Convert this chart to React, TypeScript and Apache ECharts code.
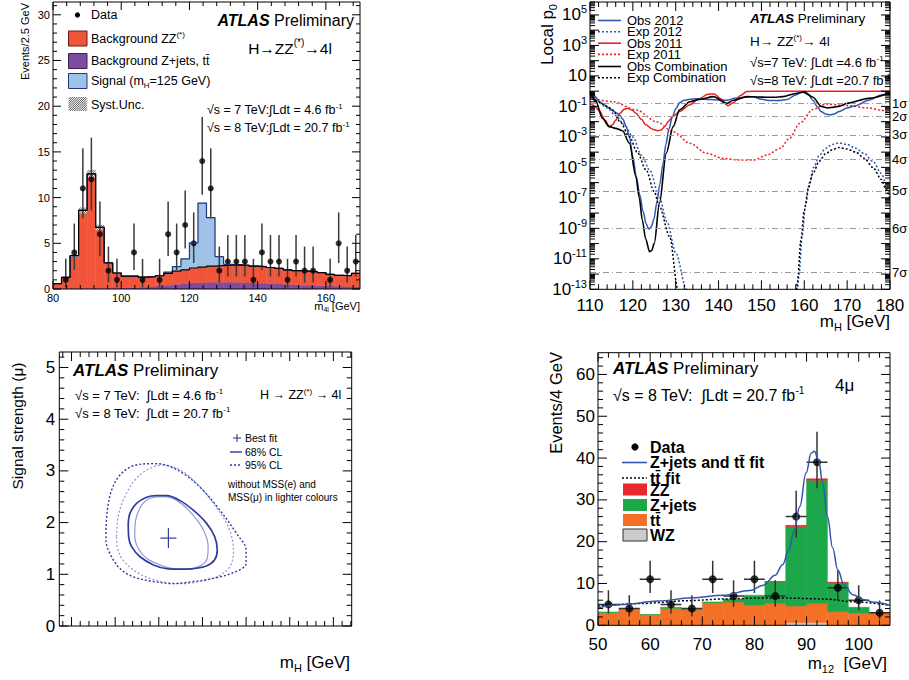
import React, { useEffect, useRef } from "react";
import * as echarts from "echarts";

const F = "'Liberation Sans', Arial, Helvetica, sans-serif";

// ---------------- Panel 1 : m4l distribution ----------------
const P1_START = 80;
const P1_WIDTH = 2.5;
const P1_BKG_TOTAL = [0.58, 1.28, 3.65, 8.6, 12.6, 6.75, 2.85, 1.75, 1.4, 1.4, 1.3, 1.35, 1.45, 1.7, 1.95, 2.1, 2.3, 2.4, 2.5, 2.55, 2.6, 2.65, 2.6, 2.5, 2.45, 2.35, 2.25, 2.1, 2.0, 1.95, 1.9, 1.8, 1.6, 1.5, 1.45, 1.7];
const P1_ZJETS = [0.05, 0.06, 0.07, 0.08, 0.08, 0.08, 0.08, 0.1, 0.12, 0.16, 0.2, 0.26, 0.34, 0.42, 0.52, 0.62, 0.68, 0.72, 0.74, 0.75, 0.75, 0.74, 0.72, 0.68, 0.64, 0.6, 0.55, 0.5, 0.46, 0.42, 0.39, 0.36, 0.33, 0.31, 0.29, 0.28];
const P1_SIGNAL = [0, 0, 0, 0, 0, 0, 0, 0, 0, 0, 0, 0, 0, 0.15, 0.5, 1.2, 2.75, 7.0, 5.3, 1.0, 0.1, 0, 0, 0, 0, 0, 0, 0, 0, 0, 0, 0, 0, 0, 0, 0];
const P1_SYST = [0, 0.08, 0.15, 0.32, 0.42, 0.28, 0.1, 0, 0, 0, 0, 0, 0, 0, 0, 0, 0, 0, 0, 0, 0, 0, 0, 0, 0, 0, 0, 0, 0, 0, 0, 0, 0, 0, 0, 0];
const P1_DATA: [number, number][] = [
  [83.75, 1], [86.25, 4], [88.75, 11], [91.25, 12], [93.75, 6], [96.25, 2], [98.75, 1], [103.75, 4], [106.25, 1],
  [111.25, 1], [113.75, 6], [116.25, 4], [118.75, 7], [121.25, 5], [123.75, 14], [126.25, 11], [128.75, 2],
  [131.25, 3], [133.75, 3], [136.25, 3], [138.75, 1], [141.25, 4], [143.75, 3], [146.25, 3], [148.75, 1],
  [151.25, 3], [153.75, 2], [156.25, 2], [161.25, 1], [163.75, 5], [166.25, 2], [168.75, 3],
];

// 68% Poisson intervals for observed counts
const POISSON_68: Record<number, [number, number]> = {
  1: [0.17, 3.3], 2: [0.71, 4.64], 3: [1.37, 5.92], 4: [2.09, 7.16], 5: [2.84, 8.38], 6: [3.62, 9.58],
  7: [4.42, 10.77], 9: [6.06, 13.1], 11: [7.74, 15.41], 12: [8.59, 16.55], 14: [10.31, 18.83],
  26: [20.94, 32.16], 39: [32.78, 46.29],
};

// ---------------- Panel 2 : local p0 (log10 values) ----------------
const P2_OBS2012: [number, number][] = [
  [110, -0.03], [111, -0.3], [112.2, -0.69], [113.4, -0.9], [114.5, -1.12], [115.7, -1.35], [116.9, -1.56], [117.7, -1.85],
  [118.4, -2.3], [119.2, -3.0], [120.0, -4.3], [120.8, -5.6], [121.6, -6.8], [122.4, -7.9], [123.1, -8.7], [123.7, -9.05],
  [124.3, -8.9], [124.9, -8.4], [125.6, -7.3], [126.3, -6.1], [127.0, -4.8], [127.7, -3.5], [128.4, -2.5], [129.2, -1.7],
  [130.0, -1.15], [131.0, -0.75], [132, -0.6], [133.3, -0.53], [135, -0.5], [138, -0.55], [140, -0.58], [142, -0.6],
  [144, -0.45], [146, -0.4], [148, -0.36], [150, -0.53], [152, -0.62], [154, -0.62], [156, -0.55], [158, -0.25],
  [159.5, -0.05], [161, -0.25], [162, -0.6], [163, -1.0], [164, -1.35], [165, -1.5], [166, -1.55], [167, -1.5],
  [168, -1.35], [170, -1.1], [172, -0.95], [175, -0.6], [178, -0.25], [180, -0.1],
];
const P2_EXP2012: [number, number][] = [
  [110, -0.3], [112, -0.75], [114, -1.1], [116, -1.6], [118, -2.2], [120, -3.0], [122, -4.2], [124, -5.2], [126, -6.8],
  [128, -8.6], [130, -10.6], [132.5, -13.0], [133.5, -14.3], [157.8, -14.3], [158.2, -13.6], [158.8, -12], [159.5, -9.5],
  [160.3, -7.5], [161.2, -6.0], [162.2, -5.0], [163.5, -4.2], [165, -3.75], [166.5, -3.5], [168, -3.4], [170, -3.5],
  [172, -3.75], [174, -4.1], [176, -4.6], [178, -5.4], [179, -6.0], [180, -6.8],
];
const P2_OBS2011: [number, number][] = [
  [110, -0.8], [111, -0.95], [112.2, -1.3], [113.5, -1.9], [114.5, -2.33], [115.3, -2.2], [116, -1.9], [117, -1.45],
  [118, -1.18], [118.8, -1.12], [119.8, -1.25], [120.7, -1.45], [122, -1.85], [123, -2.2], [124.6, -2.5], [125.8, -2.6],
  [126.6, -2.55], [127.4, -2.33], [128.4, -1.95], [129.3, -1.67], [130.9, -1.34], [133.2, -0.9], [135.5, -0.5],
  [137.5, -0.2], [139, -0.18], [140.5, -0.5], [142.2, -0.95], [143.5, -0.75], [145, -0.3], [146.6, -0.02], [150, 0],
  [165, 0], [180, 0],
];
const P2_EXP2011: [number, number][] = [
  [110, -0.46], [115.3, -0.69], [120.8, -1.23], [125.5, -2.0], [129.4, -2.66], [133.3, -3.42], [137.2, -4.08],
  [141.1, -4.41], [145, -4.52], [148.1, -4.52], [151.3, -4.19], [154.4, -3.75], [156.5, -3.1], [159, -2.1],
  [162, -1.2], [165, -0.85], [170, -0.95], [175, -1.1], [178, -1.25], [180, -1.5],
];
const P2_OBSCOMB: [number, number][] = [
  [110, -0.03], [111.4, -0.69], [112.9, -1.78], [114.5, -2.33], [116, -2.44], [117.6, -2.6], [119.2, -3.42],
  [120.7, -5.6], [121.5, -7.0], [122.2, -8.45], [123.0, -9.7], [123.9, -10.53], [124.4, -10.45], [125, -9.98],
  [126.2, -7.36], [127.8, -4.07], [129.4, -2.33], [130.9, -1.23], [133.3, -0.69], [135.6, -0.54], [138.8, -0.36],
  [141.9, -0.8], [143.5, -0.6], [146.6, -0.36], [149, -0.38], [151.3, -0.4], [153, -0.4], [155, -0.36], [158, -0.15],
  [160, -0.05], [162, -0.4], [164, -1.0], [165.5, -1.1], [167, -1.05], [168, -1.0], [170, -0.8], [175, -0.47], [180, -0.1],
];
const P2_EXPCOMB: [number, number][] = [
  [110, -0.15], [112, -0.7], [114, -1.0], [115.3, -1.23], [117, -2.0], [119.2, -2.98], [121, -4.0], [123.1, -5.17],
  [125, -6.6], [126.2, -7.58], [128.6, -9.55], [130.5, -13.0], [131.3, -14.5], [157.8, -14.3], [158.4, -12.5],
  [159.2, -9.8], [160, -7.8], [161, -6.3], [162, -5.4], [163.5, -4.6], [165, -4.1], [166.5, -3.85], [168, -3.7],
  [170, -3.8], [172, -4.0], [174, -4.4], [176, -5.0], [178, -5.8], [179, -6.4], [180, -7.1],
];
const P2_SIGMA_LOG = [-0.8, -1.64, -2.87, -4.5, -6.54, -9.01, -11.89];
const P2_SIGMA_LABELS = ["1σ", "2σ", "3σ", "4σ", "5σ", "6σ", "7σ"];
const P2_LOG_MIN = -13;

// ---------------- Panel 3 : mu vs mH contours ----------------
const P3_CL68: [number, number][] = [
  [123.30, 1.99], [123.34, 2.18], [123.49, 2.37], [123.72, 2.49], [123.95, 2.52], [124.18, 2.52], [124.48, 2.43],
  [124.79, 2.24], [125.09, 1.99], [125.28, 1.73], [125.34, 1.47], [125.28, 1.28], [125.09, 1.16], [124.79, 1.11],
  [124.48, 1.10], [124.18, 1.11], [123.88, 1.18], [123.57, 1.34], [123.38, 1.53], [123.31, 1.72], [123.30, 1.99],
];
const P3_CL68_LIGHT: [number, number][] = [
  [123.45, 1.86], [123.49, 2.12], [123.64, 2.37], [123.88, 2.49], [124.10, 2.50], [124.41, 2.43], [124.75, 2.18],
  [125.02, 1.86], [125.13, 1.54], [125.11, 1.31], [124.94, 1.16], [124.64, 1.10], [124.33, 1.11], [124.03, 1.18],
  [123.72, 1.31], [123.53, 1.50], [123.45, 1.73], [123.45, 1.86],
];
const P3_CL95: [number, number][] = [
  [122.79, 1.86], [122.82, 2.24], [122.92, 2.63], [123.11, 2.92], [123.42, 3.10], [123.88, 3.14], [124.18, 3.11],
  [124.56, 2.95], [124.94, 2.69], [125.40, 2.24], [125.78, 1.79], [126.00, 1.47], [126.00, 1.21], [125.70, 1.03],
  [125.24, 0.92], [124.79, 0.86], [124.33, 0.82], [123.88, 0.86], [123.42, 0.95], [123.11, 1.11], [122.88, 1.40],
  [122.79, 1.66], [122.79, 1.86],
];
const P3_CL95_LIGHT: [number, number][] = [
  [123.03, 1.73], [123.07, 2.12], [123.22, 2.50], [123.49, 2.86], [123.80, 3.05], [124.10, 3.11], [124.48, 3.02],
  [124.87, 2.76], [125.25, 2.37], [125.59, 1.92], [125.71, 1.47], [125.63, 1.15], [125.33, 0.95], [124.94, 0.86],
  [124.56, 0.82], [124.18, 0.84], [123.80, 0.92], [123.42, 1.08], [123.15, 1.31], [123.05, 1.53], [123.03, 1.73],
];
const P3_BEST_FIT: [number, number] = [124.22, 1.7];

// ---------------- Panel 4 : m12 control region ----------------
const P4_START = 50;
const P4_WIDTH = 4;
const P4_WZ = [0, 0, 0, 0, 0, 0, 0, 0, 0, 0.6, 0.6, 0, 0, 0];
const P4_TTBAR = [3.0, 4.0, 2.5, 4.0, 3.65, 5.4, 5.6, 4.8, 5.2, 4.0, 4.6, 3.25, 2.9, 2.9];
const P4_ZJETS = [0.2, 0, 0.1, 0.3, 0.15, 0.2, 0.7, 2.4, 5.2, 19.0, 29.5, 6.95, 1.4, 0.1];
const P4_ZZ = [0, 0, 0, 0, 0, 0, 0, 0, 0.1, 0.3, 0.35, 0.1, 0, 0];
const P4_DATA: [number, number][] = [
  [52, 5], [56, 4], [60, 11], [64, 5], [68, 4], [72, 11], [76, 7], [80, 11], [84, 7], [88, 26], [92, 39], [96, 9], [100, 6], [104, 3],
];
const P4_FIT_TOTAL: [number, number][] = [
  [50, 4.2], [55, 5.0], [61.6, 5.8], [68, 6.6], [74, 7.2], [79.1, 8.3], [81.7, 9.6], [84, 12], [85.4, 14.5],
  [86.6, 18], [87.6, 22.5], [88.7, 28.4], [89.9, 36.4], [90.9, 41.2], [91.5, 41.6], [92.3, 39.5], [93.1, 34],
  [94.0, 26], [95.0, 18.5], [96.0, 13.2], [97.2, 9.6], [98.9, 7.3], [100.8, 6.2], [103, 5.5], [106, 4.8],
];
const P4_FIT_TTBAR: [number, number][] = [
  [50, 4.6], [58, 5.2], [67.6, 5.9], [74, 6.3], [80.4, 6.5], [86.8, 6.5], [93.1, 6.3], [99.5, 5.6], [106, 4.8],
];

// ---------------- layout (pixels) ----------------
const G = [
  { l: 53, t: 2, w: 307, h: 287 },
  { l: 590, t: 2, w: 300, h: 287.3 },
  { l: 59.3, t: 352, w: 292.4, h: 274 },
  { l: 598, t: 352.7, w: 292, h: 272.6 },
];
const XR: [number, number][] = [[80, 170], [110, 180], [121.72, 128.42], [50, 106]];
const YR: [number, number][] = [[0, 31.4], [0, 18.85], [0, 5.3], [0, 65.2]];

const C = {
  zz: "#f0553a", zj: "#7d4c9f", sig: "#9ec3e7", sigLine: "#27357a",
  b12: "#3356b0", r11: "#ee1f1f",
  dk: "#2e3d9c", lt: "#8f96d8",
  zz4: "#e8292b", zj4: "#1ca84a", tt4: "#f47026", wz4: "#cccccc", fit: "#3355b0",
};

function range(a: number, b: number, s: number) {
  const out: number[] = [];
  for (let i = 0; a + i * s <= b + 1e-9; i++) out.push(Math.round((a + i * s) * 1e6) / 1e6);
  return out;
}

function hatch(L: number, T: number, W: number, H: number, sp: number) {
  const out: number[][] = [];
  const R = L + W, B = T + H;
  for (let s = L - H; s < R; s += sp) {
    let x1 = s, y1 = B, x2 = s + H, y2 = T;
    if (x1 < L) { y1 = B - (L - s); x1 = L; }
    if (x2 > R) { y2 = B - (R - s); x2 = R; }
    if (x2 > x1) out.push([x1, y1, x2, y2]);
  }
  return out;
}

function rich(s: number, bold?: boolean) {
  const w = bold ? "bold" : "normal";
  const ss = Math.round(s * 0.62);
  return {
    sup: { fontSize: ss, verticalAlign: "top", lineHeight: ss, fontFamily: F, fontWeight: w, fill: "#000", color: "#000" },
    sub: { fontSize: ss, verticalAlign: "bottom", lineHeight: ss, fontFamily: F, fontWeight: w, fill: "#000", color: "#000" },
    a: { fontSize: s, fontWeight: "bold", fontStyle: "italic", fontFamily: F, lineHeight: s * 1.3, fill: "#000", color: "#000" },
  };
}

function txt(x: number, y: number, text: string, size: number, o: any = {}) {
  return {
    type: "text", x, y, rotation: o.rot || 0, silent: true, z: 100,
    style: {
      text, fill: o.color || "#000", fontSize: size, fontFamily: F,
      fontWeight: o.bold ? "bold" : "normal",
      align: o.align || "left", verticalAlign: o.va || "middle",
      textAlign: o.align || "left", textVerticalAlign: o.va || "middle",
      lineHeight: o.lh || size * 1.3, rich: rich(size, o.bold),
    },
  };
}

function gline(x1: number, y1: number, x2: number, y2: number, stroke: string, lw: number, dash?: number[]) {
  return { type: "line", silent: true, z: 100, shape: { x1, y1, x2, y2 }, style: { stroke, lineWidth: lw, lineDash: dash || null } };
}
function grect(x: number, y: number, w: number, h: number, fill: string, stroke?: string) {
  return { type: "rect", silent: true, z: 100, shape: { x, y, width: w, height: h }, style: { fill, stroke: stroke || null, lineWidth: 1 } };
}

function rectSeries(i: number, items: number[][], color: string, stroke?: string) {
  return {
    type: "custom", xAxisIndex: i, yAxisIndex: i, silent: true, clip: true,
    data: items, encode: { x: [0, 1], y: [2, 3] },
    renderItem: (_p: any, api: any) => {
      const a = api.coord([api.value(0), api.value(3)]);
      const b = api.coord([api.value(1), api.value(2)]);
      return {
        type: "rect", shape: { x: a[0], y: a[1], width: b[0] - a[0], height: b[1] - a[1] },
        style: { fill: color, stroke: stroke || color, lineWidth: stroke ? 1 : 0.5 },
      };
    },
  };
}

function stepLine(i: number, values: number[], start: number, width: number, color: string, lw: number) {
  const pts = values.map((v, k) => [start + k * width, v]);
  pts.push([start + values.length * width, values[values.length - 1]]);
  return { type: "line", xAxisIndex: i, yAxisIndex: i, data: pts, step: "end", symbol: "none", silent: true, lineStyle: { color, width: lw } };
}

function tickSeries(i: number, xMaj: number[], xMin: number[], yMaj: number[], yMin: number[], maj: number, mnr: number) {
  const data: number[][] = [];
  xMaj.forEach((v) => data.push([0, v, maj]));
  xMin.forEach((v) => data.push([0, v, mnr]));
  yMaj.forEach((v) => data.push([1, v, maj]));
  yMin.forEach((v) => data.push([1, v, mnr]));
  const xr = XR[i], yr = YR[i];
  return {
    type: "custom", xAxisIndex: i, yAxisIndex: i, silent: true, z: 60, clip: false,
    data, encode: { x: 1, y: 1 },
    renderItem: (_p: any, api: any) => {
      const k = api.value(0), v = api.value(1), len = api.value(2);
      const st = { stroke: "#000", lineWidth: 1 };
      if (k === 0) {
        const b = api.coord([v, yr[0]]), t = api.coord([v, yr[1]]);
        return { type: "group", children: [
          { type: "line", shape: { x1: b[0], y1: b[1], x2: b[0], y2: b[1] - len }, style: st },
          { type: "line", shape: { x1: t[0], y1: t[1], x2: t[0], y2: t[1] + len }, style: st },
        ] };
      }
      const l = api.coord([xr[0], v]), r = api.coord([xr[1], v]);
      return { type: "group", children: [
        { type: "line", shape: { x1: l[0], y1: l[1], x2: l[0] + len, y2: l[1] }, style: st },
        { type: "line", shape: { x1: r[0], y1: r[1], x2: r[0] - len, y2: r[1] }, style: st },
      ] };
    },
  };
}

function errSeries(i: number, data: [number, number][], halfW: number, color: string, lw: number) {
  const items = data.map(([x, n]) => [x, n, POISSON_68[n][0], POISSON_68[n][1]]);
  return {
    type: "custom", xAxisIndex: i, yAxisIndex: i, silent: true, clip: true,
    data: items, encode: { x: 0, y: 1 },
    renderItem: (_p: any, api: any) => {
      const x = api.value(0), n = api.value(1);
      const lo = api.coord([x, api.value(2)]), hi = api.coord([x, api.value(3)]);
      const children: any[] = [{ type: "line", shape: { x1: lo[0], y1: lo[1], x2: hi[0], y2: hi[1] }, style: { stroke: color, lineWidth: lw } }];
      if (halfW > 0) {
        const l = api.coord([x - halfW, n]), r = api.coord([x + halfW, n]);
        children.push({ type: "line", shape: { x1: l[0], y1: l[1], x2: r[0], y2: r[1] }, style: { stroke: color, lineWidth: lw } });
      }
      return { type: "group", children };
    },
  };
}

function valueAxis(i: number, min: number, max: number, interval: number, size: number, margin: number, fmt: (v: number) => string, extra: any = {}) {
  return {
    type: "value", gridIndex: i, min, max, interval,
    axisLine: { show: false }, axisTick: { show: false }, splitLine: { show: false }, minorTick: { show: false },
    axisLabel: { fontSize: size, fontFamily: F, color: "#000", margin, formatter: fmt, ...extra },
  };
}
const onMultiple = (step: number) => (v: number) => {
  const q = v / step;
  return Math.abs(q - Math.round(q)) < 1e-6 ? String(Math.round(v * 1000) / 1000) : "";
};

function buildOption() {
  const binsX = (start: number, w: number, n: number) => Array.from({ length: n }, (_, k) => [start + k * w, start + (k + 1) * w]);
  const b1 = binsX(P1_START, P1_WIDTH, P1_BKG_TOTAL.length);
  const p1zj = b1.map(([a, b], k) => [a, b, 0, P1_ZJETS[k]]);
  const p1zz = b1.map(([a, b], k) => [a, b, P1_ZJETS[k], P1_BKG_TOTAL[k]]);
  const p1sig = b1.map(([a, b], k) => [a, b, P1_BKG_TOTAL[k], P1_BKG_TOTAL[k] + P1_SIGNAL[k]]).filter((_, k) => P1_SIGNAL[k] > 0);
  const p1syst = b1.map(([a, b], k) => [a, b, P1_BKG_TOTAL[k] - P1_SYST[k], P1_BKG_TOTAL[k] + P1_SYST[k]]).filter((_, k) => P1_SYST[k] > 0);
  const p1top = P1_BKG_TOTAL.map((v, k) => v + P1_SIGNAL[k]);

  const b4 = binsX(P4_START, P4_WIDTH, P4_TTBAR.length);
  const c1 = P4_WZ, c2 = c1.map((v, k) => v + P4_TTBAR[k]), c3 = c2.map((v, k) => v + P4_ZJETS[k]), c4 = c3.map((v, k) => v + P4_ZZ[k]);
  const p4wz = b4.map(([a, b], k) => [a, b, 0, c1[k]]).filter((_, k) => P4_WZ[k] > 0);
  const p4tt = b4.map(([a, b], k) => [a, b, c1[k], c2[k]]);
  const p4zj = b4.map(([a, b], k) => [a, b, c2[k], c3[k]]).filter((_, k) => P4_ZJETS[k] > 0);
  const p4zz = b4.map(([a, b], k) => [a, b, c3[k], c4[k]]).filter((_, k) => P4_ZZ[k] > 0);

  const sh = (arr: [number, number][]) => arr.map(([x, y]) => [x, y - P2_LOG_MIN]);

  const p2YMaj: number[] = [], p2YMin: number[] = [];
  for (let d = 0; d <= 18; d++) {
    p2YMaj.push(d);
    for (let k = 2; k <= 9; k++) {
      const v = d + Math.log10(k);
      if (v < YR[1][1]) p2YMin.push(v);
    }
  }

  const hatchSeries = {
    type: "custom", xAxisIndex: 0, yAxisIndex: 0, silent: true, clip: true,
    data: p1syst, encode: { x: [0, 1], y: [2, 3] },
    renderItem: (_p: any, api: any) => {
      const a = api.coord([api.value(0), api.value(3)]);
      const b = api.coord([api.value(1), api.value(2)]);
      const L = a[0], T = a[1], W = b[0] - a[0], H = b[1] - a[1];
      const children: any[] = [{ type: "rect", shape: { x: L, y: T, width: W, height: H }, style: { fill: "#fff" } }];
      hatch(L, T, W, H, 2.2).forEach((s) => children.push({ type: "line", shape: { x1: s[0], y1: s[1], x2: s[2], y2: s[3] }, style: { stroke: "#111", lineWidth: 0.7 } }));
      return { type: "group", children };
    },
  };

  const cross = {
    type: "custom", xAxisIndex: 2, yAxisIndex: 2, silent: true, data: [P3_BEST_FIT], encode: { x: 0, y: 1 },
    renderItem: (_p: any, api: any) => {
      const c = api.coord([api.value(0), api.value(1)]);
      const st = { stroke: C.dk, lineWidth: 1.2 };
      return { type: "group", children: [
        { type: "line", shape: { x1: c[0] - 8, y1: c[1], x2: c[0] + 8, y2: c[1] }, style: st },
        { type: "line", shape: { x1: c[0], y1: c[1] - 10, x2: c[0], y2: c[1] + 10 }, style: st },
      ] };
    },
  };

  const ln = (i: number, data: any[], color: string, w: number, dash?: number[], smooth = 0.3) => ({
    type: "line", xAxisIndex: i, yAxisIndex: i, data, symbol: "none", silent: true, smooth, smoothMonotone: "x",
    lineStyle: { color, width: w, type: dash || "solid" },
  });
  const loop = (data: any[], color: string, w: number, dash?: number[]) => ({
    type: "line", xAxisIndex: 2, yAxisIndex: 2, data, symbol: "none", silent: true, smooth: 0.35,
    lineStyle: { color, width: w, type: dash || "solid" },
  });

  const series: any[] = [
    // panel 1
    rectSeries(0, p1zj, C.zj),
    rectSeries(0, p1zz, C.zz),
    rectSeries(0, p1sig, C.sig),
    hatchSeries,
    stepLine(0, p1top, P1_START, P1_WIDTH, C.sigLine, 1.2),
    stepLine(0, P1_BKG_TOTAL, P1_START, P1_WIDTH, "#000", 1.2),
    errSeries(0, P1_DATA, 0, "#3a3a3a", 1.5),
    { type: "scatter", xAxisIndex: 0, yAxisIndex: 0, data: P1_DATA, symbol: "circle", symbolSize: 6, silent: true, itemStyle: { color: "#000" } },
    tickSeries(0, range(80, 160, 20), range(84, 168, 4).filter((v) => v % 20 !== 0), range(0, 30, 5), range(0, 31, 1).filter((v) => v % 5 !== 0), 8, 4),

    // panel 2
    {
      ...ln(1, sh(P2_EXP2011), C.r11, 1.5, [2, 2]),
      markLine: {
        silent: true, symbol: ["none", "none"], animation: false,
        lineStyle: { color: "#9a9a9a", width: 1, type: [6, 3, 1, 3] },
        label: { show: true, position: "end", distance: 2, color: "#000", fontSize: 13, fontFamily: F },
        data: P2_SIGMA_LOG.map((v, k) => ({ yAxis: v - P2_LOG_MIN, label: { formatter: P2_SIGMA_LABELS[k] } })),
      },
    },
    ln(1, sh(P2_OBS2011), C.r11, 1.5),
    ln(1, sh(P2_EXP2012), C.b12, 1.5, [2, 2]),
    ln(1, sh(P2_OBS2012), C.b12, 1.5),
    ln(1, sh(P2_EXPCOMB), "#000", 1.5, [2, 2]),
    ln(1, sh(P2_OBSCOMB), "#000", 1.6),
    tickSeries(1, range(110, 180, 10), range(112, 178, 2).filter((v) => v % 10 !== 0), p2YMaj, p2YMin, 9, 5),

    // panel 3
    loop(P3_CL95_LIGHT, C.lt, 1.2, [2, 2]),
    loop(P3_CL68_LIGHT, C.lt, 1.2),
    loop(P3_CL95, C.dk, 1.4, [2, 2]),
    loop(P3_CL68, C.dk, 1.7),
    cross,
    tickSeries(2, range(122, 128, 1), range(121.8, 128.4, 0.2).filter((v) => Math.abs(v - Math.round(v)) > 1e-6), range(0, 5, 1), range(0, 5.2, 0.2).filter((v) => Math.abs(v - Math.round(v)) > 1e-6), 9, 5),

    // panel 4
    rectSeries(3, p4wz, C.wz4),
    rectSeries(3, p4tt, C.tt4),
    rectSeries(3, p4zj, C.zj4),
    rectSeries(3, p4zz, C.zz4),
    ln(3, P4_FIT_TTBAR, "#000", 1.5, [2, 2]),
    ln(3, P4_FIT_TOTAL, C.fit, 1.5, undefined, 0.4),
    errSeries(3, P4_DATA, 2, "#333", 1.5),
    { type: "scatter", xAxisIndex: 3, yAxisIndex: 3, data: P4_DATA, symbol: "circle", symbolSize: 8, silent: true, itemStyle: { color: "#000" } },
    tickSeries(3, range(50, 100, 10), range(52, 104, 2).filter((v) => v % 10 !== 0), range(0, 60, 10), range(0, 64, 2).filter((v) => v % 10 !== 0), 9, 5),
  ];

  const p2fmt = (v: number) => {
    const r = Math.round(v);
    if (Math.abs(v - r) > 1e-6 || r % 2 !== 0) return "";
    const e = r + P2_LOG_MIN;
    return e === 1 ? "10" : `10{sup|${e}}`;
  };

  const graphic: any[] = [];
  G.forEach((g) => graphic.push({ type: "rect", silent: true, z: 110, shape: { x: g.l, y: g.t, width: g.w, height: g.h }, style: { fill: "none", stroke: "#000", lineWidth: 1 } }));

  // ---- panel 1 texts & legend ----
  graphic.push(txt(25, 3, "Events/2.5 GeV", 11, { rot: Math.PI / 2, align: "right" }));
  graphic.push(txt(360, 306, "m{sub|4l} [GeV]", 11, { align: "right" }));
  graphic.push({ type: "circle", silent: true, z: 100, shape: { cx: 77.5, cy: 15, r: 2.6 }, style: { fill: "#000" } });
  graphic.push(txt(91, 15, "Data", 12.5));
  graphic.push(grect(68.5, 31, 18.5, 15, C.zz, "#6b1c10"));
  graphic.push(txt(91, 38.5, "Background ZZ{sup|(*)}", 12.5));
  graphic.push(grect(68.5, 53.5, 18.5, 15, C.zj, "#3a1f55"));
  graphic.push(txt(91, 61, "Background Z+jets, tt\u0304", 12.5));
  graphic.push(grect(68.5, 73.5, 18.5, 15, C.sig, C.sigLine));
  graphic.push(txt(91, 81, "Signal (m{sub|H}=125 GeV)", 12.5));
  hatch(68.5, 97, 18.5, 14, 2.2).forEach((s) => graphic.push(gline(s[0], s[1], s[2], s[3], "#222", 0.8)));
  graphic.push(txt(91, 105, "Syst.Unc.", 12.5));
  graphic.push(txt(354, 20, "{a|ATLAS} Preliminary", 16, { align: "right" }));
  graphic.push(txt(290, 48, "H→ZZ{sup|(*)}→4l", 15.5, { align: "center" }));
  graphic.push(txt(207, 110, "√s = 7 TeV:∫Ldt = 4.6 fb{sup|-1}", 12.5, { lh: 15 }));
  graphic.push(txt(207, 128, "√s = 8 TeV:∫Ldt = 20.7 fb{sup|-1}", 12.5, { lh: 15 }));

  // ---- panel 2 texts & legend ----
  graphic.push(txt(547, 4, "Local p{sub|0}", 17, { rot: Math.PI / 2, align: "right" }));
  graphic.push(txt(890, 321, "m{sub|H} [GeV]", 17, { align: "right" }));
  const leg2: [string, string, number[] | undefined][] = [
    ["Obs 2012", C.b12, undefined], ["Exp 2012", C.b12, [2, 2]], ["Obs 2011", C.r11, undefined],
    ["Exp 2011", C.r11, [2, 2]], ["Obs Combination", "#000", undefined], ["Exp Combination", "#000", [2, 2]],
  ];
  const leg2y = [20.5, 31.7, 43.2, 54.4, 66.5, 77.7];
  leg2.forEach(([t, c, d], k) => {
    graphic.push(gline(598, leg2y[k], 621, leg2y[k], c, 1.6, d));
    graphic.push(txt(627, leg2y[k], t, 13, { lh: 10.5 }));
  });
  graphic.push(txt(750, 18, "{a|ATLAS} Preliminary", 13.5, { lh: 14 }));
  graphic.push(txt(750, 41, "H→ ZZ{sup|(*)}→ 4l", 13.5, { lh: 16 }));
  graphic.push(txt(750, 62, "√s=7 TeV: ∫Ldt =4.6 fb{sup|-1}", 13, { lh: 16 }));
  graphic.push(txt(750, 80, "√s=8 TeV: ∫Ldt =20.7 fb{sup|-1}", 13, { lh: 16 }));

  // ---- panel 3 texts & legend ----
  graphic.push(txt(17, 426, "Signal strength (μ)", 15.5, { rot: Math.PI / 2, align: "center" }));
  graphic.push(txt(350, 662, "m{sub|H} [GeV]", 17, { align: "right" }));
  graphic.push(txt(73, 370, "{a|ATLAS} Preliminary", 17));
  graphic.push(txt(75, 395, "√s = 7 TeV:  ∫Ldt = 4.6 fb{sup|-1}", 13, { lh: 16 }));
  graphic.push(txt(75, 413, "√s = 8 TeV:  ∫Ldt = 20.7 fb{sup|-1}", 13, { lh: 16 }));
  graphic.push(txt(260, 395, "H → ZZ{sup|(*)} → 4l", 12.5, { lh: 16 }));
  graphic.push(gline(233, 438, 241, 438, C.dk, 1.1));
  graphic.push(gline(237, 434, 237, 442, C.dk, 1.1));
  graphic.push(txt(245, 438, "Best fit", 10.5, { lh: 11 }));
  graphic.push(gline(230, 452, 242, 452, C.dk, 1.4));
  graphic.push(txt(245, 452, "68% CL", 10.5, { lh: 11 }));
  graphic.push(gline(230, 465, 242, 465, C.dk, 1.4, [2, 2]));
  graphic.push(txt(245, 465, "95% CL", 10.5, { lh: 11 }));
  graphic.push(txt(228, 484, "without MSS(e) and", 10, { lh: 11 }));
  graphic.push(txt(228, 497, "MSS(μ) in lighter colours", 10, { lh: 11 }));

  // ---- panel 4 texts & legend ----
  graphic.push(txt(556, 352, "Events/4 GeV", 16.5, { rot: Math.PI / 2, align: "right" }));
  graphic.push(txt(887, 663, "m{sub|12}  [GeV]", 17, { align: "right" }));
  graphic.push(txt(613, 368, "{a|ATLAS} Preliminary", 17, { lh: 18 }));
  graphic.push(txt(613, 395, "√s = 8 TeV:  ∫Ldt = 20.7 fb{sup|-1}", 16, { lh: 19 }));
  graphic.push(txt(835, 385, "4μ", 17, { lh: 17 }));
  graphic.push({ type: "circle", silent: true, z: 100, shape: { cx: 635, cy: 447, r: 3.6 }, style: { fill: "#000" } });
  const leg4: [string, number][] = [
    ["Data", 447], ["Z+jets and tt\u0304 fit", 462.5], ["tt\u0304 fit", 478], ["ZZ", 490], ["Z+jets", 505], ["tt\u0304", 520], ["WZ", 535],
  ];
  leg4.forEach(([t, y]) => graphic.push(txt(650, y, t, 16, { bold: true, lh: 12.5 })));
  graphic.push(gline(622, 462.5, 647, 462.5, C.fit, 1.6));
  graphic.push(gline(622, 478, 647, 478, "#000", 1.6, [2, 2]));
  graphic.push(grect(623, 483.5, 24, 12, C.zz4));
  graphic.push(grect(623, 499, 24, 12, C.zj4));
  graphic.push(grect(623, 514, 24, 12, C.tt4));
  graphic.push(grect(623, 529, 24, 12, C.wz4, "#333"));

  return {
    animation: false,
    backgroundColor: "#fff",
    grid: G.map((g) => ({ left: g.l, top: g.t, width: g.w, height: g.h, containLabel: false, outerBoundsMode: "none", show: false })),
    xAxis: [
      valueAxis(0, XR[0][0], XR[0][1], 20, 11, 3, onMultiple(20)),
      valueAxis(1, XR[1][0], XR[1][1], 10, 17, 8, onMultiple(10)),
      valueAxis(2, XR[2][0], XR[2][1], 1, 17, 3, onMultiple(1)),
      valueAxis(3, XR[3][0], XR[3][1], 10, 17, 11, onMultiple(10)),
    ],
    yAxis: [
      valueAxis(0, YR[0][0], YR[0][1], 5, 11, 3, onMultiple(5)),
      valueAxis(1, YR[1][0], YR[1][1], 2, 17, 3, p2fmt, { lineHeight: 22, rich: { sup: { fontSize: 11, verticalAlign: "top", lineHeight: 11, fontFamily: F, color: "#000" } } }),
      valueAxis(2, YR[2][0], YR[2][1], 1, 17, 4, onMultiple(1)),
      valueAxis(3, YR[3][0], YR[3][1], 10, 17, 3, onMultiple(10)),
    ],
    series,
    graphic,
  };
}

export default function App() {
  const ref = useRef<HTMLDivElement>(null);
  useEffect(() => {
    if (!ref.current) return;
    const chart = echarts.init(ref.current, null, { renderer: "svg" });
    chart.setOption(buildOption() as any);
    return () => chart.dispose();
  }, []);
  return <div ref={ref} style={{ position: "absolute", left: 0, top: 0, width: 909, height: 680, background: "#fff" }} />;
}
